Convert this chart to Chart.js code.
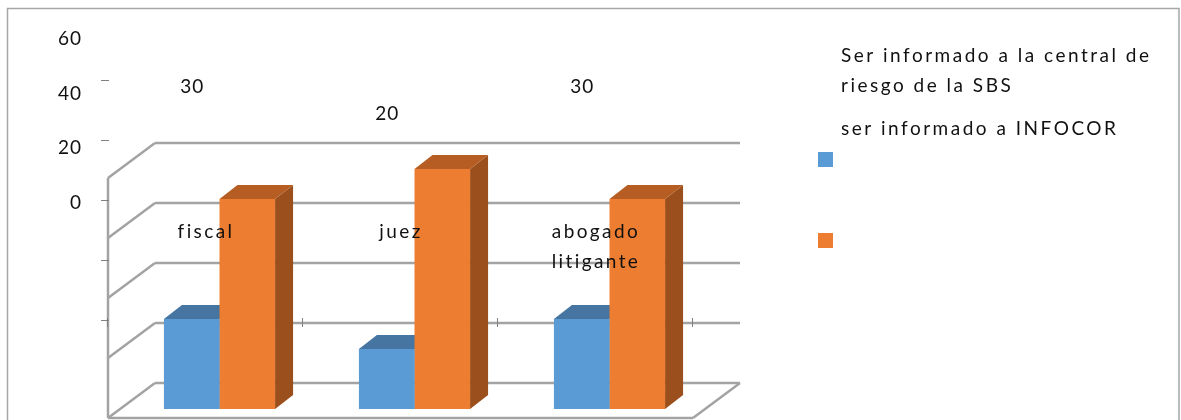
<!DOCTYPE html>
<html>
<head>
<meta charset="utf-8">
<title>Central de riesgo</title>
<script src="https://cdn.jsdelivr.net/npm/chart.js@4"></script>
<style>
  html, body { margin: 0; padding: 0; background: #fff; overflow: hidden; }
  canvas { display: block; }
</style>
</head>
<body>
<canvas id="riskChart" width="1181" height="420"></canvas>
<script>
const categories = [['fiscal'], ['juez'], ['abogado', 'litigante']];
const centralRiesgo = [30, 20, 30];
const infocor = [70, 80, 70];
const axisLabels = ['0', '20', '40', '60'];
const seriesLines = [['Ser informado a la central de', 'riesgo de la SBS'], ['ser informado a INFOCOR']];

const GRID = '#a3a3a3';
const INK = '#111111';
const FONT = '19px Lato';
const BLUE = ['#5b9bd5', '#4675a1', '#3f6a92'];
const ORANGE = ['#ed7d31', '#b55d23', '#9a4f1c'];

// offset of the bars' own depth, and of the floor/wall box
const barDx = 18, barDy = 14;
const wallDx = 47, wallDy = 35;
const wallBack = 26;   // back wall baseline sits this far above the bar baseline

function poly(ctx, pts, fill) {
  ctx.beginPath();
  pts.forEach((p, i) => i ? ctx.lineTo(p[0], p[1]) : ctx.moveTo(p[0], p[1]));
  ctx.closePath();
  ctx.fillStyle = fill;
  ctx.fill();
}

function line(ctx, x1, y1, x2, y2) {
  ctx.beginPath();
  ctx.moveTo(x1, y1);
  ctx.lineTo(x2, y2);
  ctx.stroke();
}

function label(ctx, text, x, y, align) {
  ctx.textAlign = align;
  ctx.fillText(text, x, y);
}

const box3d = {
  id: 'box3d',
  beforeDatasetsDraw(chart) {
    const ctx = chart.ctx;
    const xs = chart.scales.x, ys = chart.scales.y;
    const backLeft = xs.left + 33, backRight = xs.right + 33;
    const frontLeft = backLeft - wallDx, frontRight = backRight - wallDx;
    const zero = ys.getPixelForValue(0) - wallBack;
    ctx.save();

    // chart frame
    ctx.strokeStyle = '#a6a6a6';
    ctx.lineWidth = 1.5;
    ctx.strokeRect(7.5, 8.5, 1171.5, 430);

    // walls and floor
    ctx.strokeStyle = GRID;
    ctx.lineWidth = 2.5;
    ys.ticks.forEach(t => {
      const y = ys.getPixelForValue(t.value) - wallBack;
      line(ctx, backLeft, y, backRight, y);
      line(ctx, backLeft, y, frontLeft, y + wallDy);
    });
    line(ctx, frontLeft, ys.getPixelForValue(80) - wallBack + wallDy, frontLeft, zero + wallDy);
    line(ctx, frontLeft, zero + wallDy, frontRight, zero + wallDy);
    line(ctx, backRight, zero, frontRight, zero + wallDy);

    // stray tick marks of both axes
    ctx.lineWidth = 1;
    ctx.strokeStyle = '#808080';
    ys.ticks.forEach(t => {
      const y = Math.round(ys.getPixelForValue(t.value) - 89) + 0.5;
      line(ctx, frontLeft - 7, y, frontLeft + 1, y);
    });
    const band = xs.getPixelForTick(1) - xs.getPixelForTick(0);
    for (let i = 0; i <= categories.length; i++) {
      const x = Math.round(frontLeft + band * i) - 0.5;
      const y = ys.getPixelForValue(0) - 86;
      line(ctx, x, y - 5, x, y + 4);
    }

    // top and side faces of the columns
    [BLUE, ORANGE].forEach((col, d) => {
      chart.getDatasetMeta(d).data.forEach(bar => {
        const l = bar.x - bar.width / 2, r = bar.x + bar.width / 2;
        poly(ctx, [[r, bar.y], [r + barDx, bar.y - barDy], [r + barDx, bar.base - barDy], [r, bar.base]], col[2]);
        poly(ctx, [[l, bar.y], [l + barDx, bar.y - barDy], [r + barDx, bar.y - barDy], [r, bar.y]], col[1]);
      });
    });
    ctx.restore();
  },
  afterDraw(chart) {
    const ctx = chart.ctx;
    const xs = chart.scales.x, ys = chart.scales.y;
    ctx.save();
    ctx.font = FONT;
    ctx.fillStyle = INK;
    ctx.textBaseline = 'middle';
    ctx.letterSpacing = '1px';

    // value axis labels
    axisLabels.forEach((t, i) => label(ctx, t, 82, 202.5 - i * 54.4, 'right'));

    // values of the first series, on a slightly tighter step than the bars
    const blue = chart.getDatasetMeta(0).data;
    centralRiesgo.forEach((v, i) => {
      label(ctx, String(v), blue[i].x + 0.5, ys.getPixelForValue(v) * 0.9 - 200, 'center');
    });

    // category labels
    ctx.letterSpacing = '2.4px';
    categories.forEach((lines, i) => {
      lines.forEach((t, n) => {
        label(ctx, t, xs.getPixelForTick(i) - 13.5, 232 + n * 30, 'center');
      });
    });

    // legend: swatches and text sit apart
    [BLUE, ORANGE].forEach((col, i) => {
      ctx.fillStyle = col[0];
      ctx.fillRect(818, 152 + i * 81, 15, 15);
    });
    ctx.fillStyle = INK;
    ctx.letterSpacing = '2.5px';
    seriesLines[0].forEach((t, n) => label(ctx, t, 841, 56 + n * 30, 'left'));
    seriesLines[1].forEach(t => label(ctx, t, 841, 129, 'left'));
    ctx.restore();
  }
};

new Chart(document.getElementById('riskChart').getContext('2d'), {
  type: 'bar',
  data: {
    labels: categories,
    datasets: [
      { label: seriesLines[0].join(' '), data: centralRiesgo, backgroundColor: BLUE[0] },
      { label: seriesLines[1].join(' '), data: infocor, backgroundColor: ORANGE[0] }
    ]
  },
  options: {
    responsive: false,
    animation: false,
    layout: { padding: { left: 122, right: 474, top: 169, bottom: 11 } },
    categoryPercentage: 0.57,
    barPercentage: 1,
    scales: {
      x: { display: false },
      y: { display: false, min: 0, max: 80, ticks: { stepSize: 20 } }
    },
    plugins: {
      legend: { display: false },
      tooltip: { enabled: false }
    }
  },
  plugins: [box3d]
});
</script>
</body>
</html>
